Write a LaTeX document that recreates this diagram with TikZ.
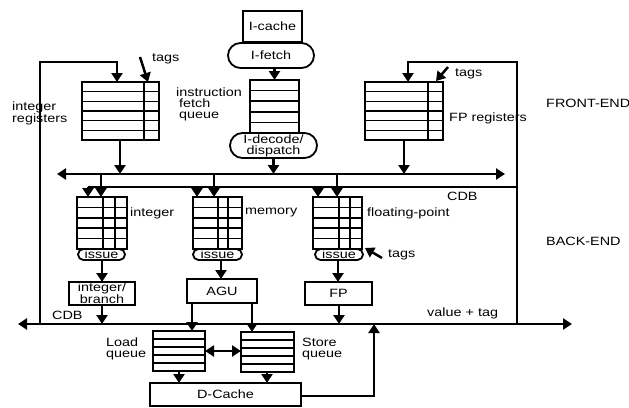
\documentclass[tikz,border=0pt]{standalone}
\usepackage{fontspec}
\setmainfont{Liberation Sans}[FakeStretch=1.2]
\usetikzlibrary{arrows.meta,calc,shapes.misc}
\begin{document}
\begin{tikzpicture}[x=1pt,y=-1pt,
  >={Triangle[width=11pt,length=9pt]},
  font=\fontsize{12}{11}\selectfont,
  box/.style={draw,line width=2.3pt,inner sep=0pt,outer sep=0pt,align=center},
  pill/.style={draw,line width=1.8pt,rounded rectangle,inner sep=0pt,outer sep=0pt,align=center},
  arr/.style={line width=2.5pt,->},
  darr/.style={line width=2.5pt,<->},
  ln/.style={line width=2.5pt},
  rowline/.style={line width=1.5pt},
  divline/.style={line width=2.2pt},
  lbl/.style={inner sep=0pt,align=left,anchor=west}]
\useasboundingbox (0,0) rectangle (629,407);

% front end
\node[box,minimum width=59pt,minimum height=31pt] (icache) at (272.5,26.5) {I-cache};
\node[pill,minimum width=86pt,minimum height=25pt] (ifetch) at (271,55.5) {I-fetch};
\node[box,minimum width=49pt,minimum height=53pt] (fq) at (274.5,106.5) {};
\foreach \i in {1,...,4}
  \draw[rowline] ($(fq.north west)!\i/5!(fq.south west)$) -- ($(fq.north east)!\i/5!(fq.south east)$);
\node[pill,minimum width=87pt,minimum height=25pt] (decode) at (273.5,145.5) {I-decode/\\dispatch};

\node[box,minimum width=77pt,minimum height=58pt] (intreg) at (120.5,111) {};
\foreach \i in {1,...,5}
  \draw[rowline] ($(intreg.north west)!\i/6!(intreg.south west)$) -- ($(intreg.north east)!\i/6!(intreg.south east)$);
\draw[divline] (144,82) -- (144,140);

\node[box,minimum width=78pt,minimum height=58pt] (fpreg) at (404,111) {};
\foreach \i in {1,...,5}
  \draw[rowline] ($(fpreg.north west)!\i/6!(fpreg.south west)$) -- ($(fpreg.north east)!\i/6!(fpreg.south east)$);
\draw[divline] (428,82) -- (428,140);

% reservation stations
\node[box,minimum width=50pt,minimum height=52pt] (intrs) at (102,223) {};
\node[box,minimum width=49pt,minimum height=52pt] (memrs) at (217.5,223) {};
\node[box,minimum width=49pt,minimum height=52pt] (fprs) at (337.5,223) {};
\foreach \n in {intrs,memrs,fprs}{
  \foreach \i in {1,...,4}
    \draw[rowline] ($(\n.north west)!\i/5!(\n.south west)$) -- ($(\n.north east)!\i/5!(\n.south east)$);
}
\draw[divline] (103,197) -- (103,249);
\draw[divline] (115,197) -- (115,249);
\draw[divline] (218,197) -- (218,249);
\draw[divline] (228,197) -- (228,249);
\draw[divline] (339,197) -- (339,249);
\draw[divline] (350,197) -- (350,249);

\node[pill,minimum width=47pt,minimum height=11pt] (intissue) at (101.5,254.5) {issue};
\node[pill,minimum width=49pt,minimum height=11pt] (memissue) at (217.5,254.5) {issue};
\node[pill,minimum width=48pt,minimum height=11pt] (fpissue) at (339,254.5) {issue};

% functional units
\node[box,minimum width=66pt,minimum height=23pt] (intalu) at (102,293.5) {integer/\\branch};
\node[box,minimum width=70pt,minimum height=24pt] (agu) at (222,291) {AGU};
\node[box,minimum width=67pt,minimum height=23pt] (fpu) at (338.5,293.5) {FP};

% queues and cache
\node[box,minimum width=52pt,minimum height=40pt] (lq) at (179,351) {};
\node[box,minimum width=53pt,minimum height=40pt] (sq) at (267.5,352) {};
\foreach \n in {lq,sq}{
  \foreach \i in {1,...,4}
    \draw[rowline] ($(\n.north west)!\i/5!(\n.south west)$) -- ($(\n.north east)!\i/5!(\n.south east)$);
}
\node[box,minimum width=151pt,minimum height=23pt] (dcache) at (225.5,394.5) {D-Cache};

% bus coordinates
\coordinate (ubL) at (57,174);
\coordinate (ubR) at (505,174);
\coordinate (cdbL) at (88,187);
\coordinate (cdbR) at (517,187);
\coordinate (lbL) at (18,324);
\coordinate (lbR) at (572,324);
\coordinate (loopL) at (40,62);
\coordinate (loopR) at (517,62);

% buses
\draw[darr] (ubL) -- (ubR);
\draw[ln] (cdbL) -- (cdbR);
\draw[darr] (lbL) -- (lbR);

% feedback loops
\draw[arr] (lbL -| loopL) -- (loopL) -- (117,62) -- (117,82);
\draw[arr] (lbR -| loopR) -- (loopR) -- (408,62) -- (408,82);

% front-end arrows
\draw[arr] (fq.north |- ifetch.south) -- (fq.north);
\draw[arr] (decode.south) -- (decode.south |- ubL);
\draw[arr] (120,140) -- (120,174);
\draw[arr] (404,140) -- (404,174);

% tags arrows
\coordinate (t1) at (140,57);
\coordinate (t2) at (448,67);
\coordinate (t3) at (382,258);
\draw[arr] (t1) -- (148,82);
\draw[arr] (t2) -- (436,81);
\draw[arr] (t3) -- (365,248);

% into reservation stations
\draw[arr] (88,187) -- (88,197);
\draw[arr] (101,174) -- (101,197);
\draw[arr] (197,187) -- (197,197);
\draw[arr] (214,174) -- (214,197);
\draw[arr] (318,187) -- (318,197);
\draw[arr] (337,174) -- (337,197);

% issue to units
\draw[arr] (102,260) -- (intalu.north);
\draw[arr] (221,260) -- (221,279);
\draw[arr] (338,260) -- (338,282);

% units to bus
\draw[arr] (intalu.south) -- (102,324);
\draw[arr] (339,305) -- (339,324);
\draw[arr] (192,303) -- (192,331);
\draw[arr] (252,303) -- (252,332);

% queues
\draw[darr] (lq.east |- 0,351) -- (sq.west |- 0,351);
\draw[arr] (179,371) -- (179,383);
\draw[arr] (267,372) -- (267,383);
\draw[arr] (dcache.east |- 0,396) -- (374,396) -- (374,324);

% labels
\node[lbl] (tagA) at (152,59) {tags};
\node[lbl] (intreglbl) at (12,113.5) {integer\\registers};
\node[lbl] (fqlbl) at (176,104.5) {instruction\\\hspace*{3pt}fetch\\\hspace*{3pt}queue};
\node[lbl] (tagB) at (455,74) {tags};
\node[lbl] (fpreglbl) at (449,118) {FP registers};
\node[lbl] (front) at (546,103) {FRONT-END};
\node[lbl] (cdbA) at (447,196) {CDB};
\node[lbl] (intlbl) at (130,213) {integer};
\node[lbl] (memlbl) at (245,213) {memory};
\node[lbl] (fplbl) at (367,213) {floating-point};
\node[lbl] (back) at (546,241) {BACK-END};
\node[lbl] (tagC) at (388,255) {tags};
\node[lbl] (cdbB) at (52,315) {CDB};
\node[lbl] (vt) at (427,313) {value + tag};
\node[lbl] (lqlbl) at (106,349) {Load\\queue};
\node[lbl] (sqlbl) at (302,349) {Store\\queue};
\end{tikzpicture}
\end{document}
